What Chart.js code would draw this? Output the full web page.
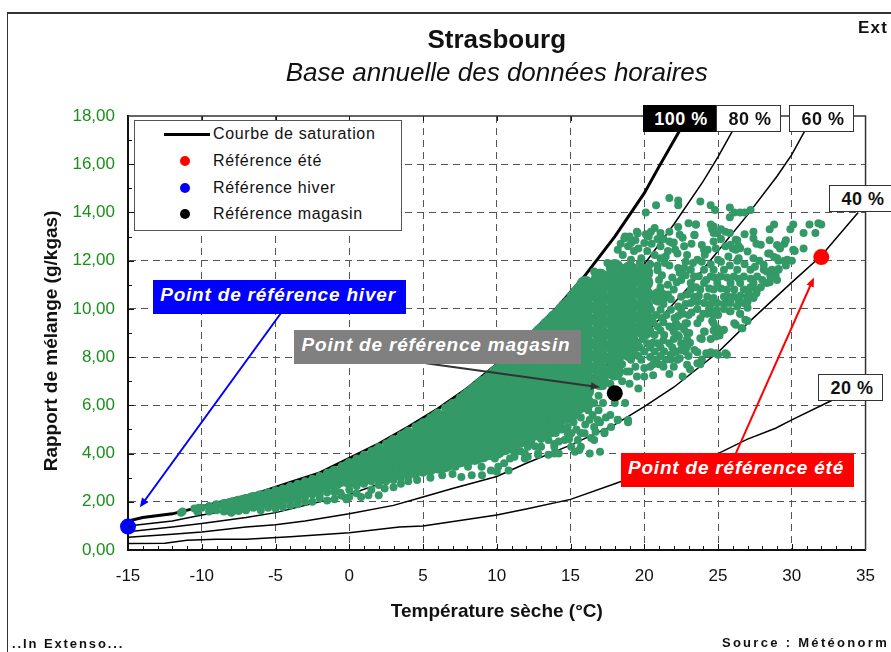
<!DOCTYPE html>
<html lang="fr">
<head>
<meta charset="utf-8">
<title>Strasbourg</title>
<script src="https://cdn.jsdelivr.net/npm/chart.js@4"></script>
<style>
html, body { margin: 0; padding: 0; background: #fff; overflow: hidden; }
body { width: 891px; height: 652px; position: relative; font-family: "Liberation Sans", Arial, sans-serif; }
#chart { position: absolute; left: 0; top: 0; }
#frame { position: absolute; left: 7px; top: 12px; width: 900px; height: 700px; border-left: 1px solid #333; border-top: 2px solid #333; }
.note { position: absolute; box-sizing: border-box; padding-right: 3px; color: #fff; font-weight: bold; font-style: italic; font-size: 19px; letter-spacing: 0.8px; text-align: center; height: 34px; line-height: 29px; white-space: nowrap; }
#note-hiver { left: 153px; top: 280px; width: 253px; background: #0000ff; }
#note-magasin { left: 294px; top: 330px; width: 287px; background: #808080; }
#note-ete { left: 621px; top: 453px; width: 233px; background: #ff0000; }
.pct { position: absolute; box-sizing: border-box; padding-left: 3px; height: 27px; line-height: 27px; background: #fff; border: 1.5px solid #333; color: #111; font-weight: bold; font-size: 18px; text-align: center; letter-spacing: 0.5px; }
#pct100 { left: 643px; top: 105px; width: 73px; background: #000; color: #fff; border-color: #000; }
#pct80 { left: 716px; top: 105px; width: 65px; }
#pct60 { left: 789px; top: 105px; width: 65px; }
#pct40 { left: 829px; top: 185px; width: 65px; }
#pct20 { left: 818px; top: 374px; width: 65px; }
#legend { position: absolute; left: 134px; top: 120px; width: 268px; height: 111px; box-sizing: border-box; background: #fff; border: 1px solid #555; font-size: 16px; color: #111; }
#legend div { position: absolute; left: 78px; height: 20px; line-height: 20px; white-space: nowrap; letter-spacing: 0.65px; }
#legend i { position: absolute; display: block; }
.foot { position: absolute; font-weight: bold; font-size: 13px; color: #111; white-space: nowrap; }
#foot-left { left: 12px; top: 636px; letter-spacing: 1.9px; }
#foot-right { right: 2px; top: 635px; letter-spacing: 2.3px; }
#ext { position: absolute; left: 858px; top: 18px; font-weight: bold; font-size: 17px; color: #111; letter-spacing: 1.2px; }
</style>
</head>
<body>
<div id="frame"></div>
<canvas id="chart" width="891" height="652"></canvas>
<div id="legend"></div>
<div id="ext">Ext</div>
<div class="foot" id="foot-left">..In Extenso...</div>
<div class="foot" id="foot-right">Source : Météonorm</div>
<script>
const chartTitle = 'Strasbourg';
const chartSubtitle = 'Base annuelle des données horaires';
const xTitle = 'Température sèche (°C)';
const yTitle = 'Rapport de mélange (g/kgas)   ';

// courbes d'humidité relative [temp, rapport de mélange]
const curve100 = [[-15,1.2],[-14,1.35],[-12,1.5],[-10,1.8],[-8,2.1],[-6,2.4],[-4,2.8],[-2,3.2],[0,3.8],[2,4.4],[4,5.1],[6,5.85],[8,6.7],[10,7.7],[12,8.8],[14,10],[16,11.4],[18,13],[20,14.8],[21,15.9],[22.4,17.4]];
const curve80 = [[-15,1],[-12,1.2],[-10,1.45],[-7,1.75],[-5,2.05],[-2,2.6],[0,3.05],[5,4.4],[10,6.2],[15,8.6],[18,10.4],[20,11.85],[22,13.5],[24,15.3],[25,16.3],[26,17.4]];
const curve60 = [[-15,0.76],[-12,0.95],[-10,1.1],[-7,1.35],[-5,1.55],[-2,2],[0,2.3],[3,2.95],[5,3.3],[10,4.65],[15,6.5],[20,8.9],[23,10.9],[25,12.4],[27,13.9],[29,15.5],[30,16.4],[30.9,17.4]];
const curve40 = [[-15,0.53],[-12,0.65],[-10,0.75],[-7,0.95],[-5,1.05],[-3,1.2],[0,1.5],[3,1.85],[5,2.2],[7,2.55],[10,3.05],[12,3.6],[15,4.35],[18,5.2],[20,5.95],[22,6.75],[25,8.2],[27,9.4],[30,11.1],[32,12.2],[34.5,14]];
const curve20 = [[-15,0.27],[-12.5,0.28],[-11,0.4],[-9,0.45],[-7,0.45],[-4,0.55],[0,0.72],[3.4,0.95],[5,1],[10,1.45],[12,1.7],[15,2.1],[18,2.75],[20,3.2],[22,3.55],[25,4],[27,4.6],[28.9,5.05],[30,5.4],[32.7,6.2]];

const pctLabels = ['100 %', '80 %', '60 %', '40 %', '20 %'];
const noteLabels = ['Point de référence hiver', 'Point de référence magasin', 'Point de référence été'];

// points de référence
const refEte = [32, 12.15];
const refHiver = [-15, 0.97];
const refMagasin = [18, 6.5];

// flèches [départ, arrivée]
const arrowHiver = [[-4.6, 9.85], [-14.2, 1.77]];
const arrowMagasin = [[5.2, 7.75], [17, 6.75]];
const arrowEte = [[26.2, 4], [31.5, 11.3]];

// coeur du nuage : zone trop dense pour lire chaque point, gros points superposés
const cloudCore = [
[-8,1.8],[-7.5,1.88],[-7,1.95],[-6.5,2.03],[-6,2.1],[-5.5,2.15],[-5,2.2],[-4.5,2.3],[-4,2.4],[-3.5,2.47],[-3,2.55],[-2.5,2.65],[-2,2.75],[-1.5,2.85],
[-1,2.85],[-1,3.1],[-0.5,3],[-0.5,3.15],[0,2.95],[0,3.4],[0.5,3],[0.5,3.45],[1,3.05],[1,3.35],[1,3.65],[1.5,3.15],[1.5,3.7],
[2,3.15],[2,3.6],[2,4],[2.5,3.3],[2.5,3.9],[3,3.25],[3,3.8],[3,4.35],[3.5,3.4],[3.5,3.9],[3.5,4.4],[4,3.35],[4,3.85],[4,4.35],[4,4.7],[4.5,3.45],[4.5,3.95],[4.5,4.6],
[5,3.45],[5,3.95],[5,4.5],[5,5.05],[5.5,3.5],[5.5,4.1],[5.5,4.7],[5.5,5.2],[6,3.55],[6,4.05],[6,4.55],[6,5.05],[6,5.45],[6.5,3.6],[6.5,4.2],[6.5,4.8],[6.5,5.4],
[7,3.7],[7,4.2],[7,4.7],[7,5.2],[7,5.55],[7,5.85],[7.5,3.8],[7.5,4.4],[7.5,5],[7.5,5.6],[7.5,6],
[8,3.85],[8,4.4],[8,4.9],[8,5.4],[8,5.9],[8,6.3],[8.5,3.9],[8.5,4.5],[8.5,5.1],[8.5,5.7],[8.5,6.3],[8.5,6.55],
[9,4],[9,4.5],[9,5],[9,5.5],[9,6],[9,6.45],[9,6.8],[9.5,4.1],[9.5,4.7],[9.5,5.3],[9.5,5.9],[9.5,6.5],[9.5,7],
[10,4.15],[10,4.65],[10,5.15],[10,5.65],[10,6.15],[10,6.65],[10,6.95],[10,7.3],[10.5,4.3],[10.5,4.9],[10.5,5.5],[10.5,6.1],[10.5,6.7],[10.5,7.45],
[11,4.4],[11,4.9],[11,5.4],[11,5.9],[11,6.4],[11,6.9],[11,7.4],[11,7.8],[11.5,4.6],[11.5,5.2],[11.5,5.8],[11.5,6.4],[11.5,7],[11.5,7.6],[11.5,8.05],
[12,4.7],[12,5.2],[12,5.7],[12,6.2],[12,6.7],[12,7.2],[12,7.7],[12,8.05],[12,8.4],[12.5,4.9],[12.5,5.5],[12.5,6.1],[12.5,6.7],[12.5,7.3],[12.5,7.9],[12.5,8.6],
[13,5],[13,5.5],[13,6],[13,6.5],[13,7],[13,7.5],[13,8],[13,8.5],[13,9],[13.5,5.3],[13.5,5.9],[13.5,6.5],[13.5,7.1],[13.5,7.7],[13.5,8.3],[13.5,8.9],[13.5,9.3],
[14,5.3],[14,5.8],[14,6.3],[14,6.8],[14,7.3],[14,7.8],[14,8.3],[14,8.8],[14,9.3],[14,9.6],[14.5,5.6],[14.5,6.2],[14.5,6.8],[14.5,7.4],[14.5,8],[14.5,8.6],[14.5,9.2],[14.5,9.9],
[15,5.7],[15,6.2],[15,6.7],[15,7.2],[15,7.7],[15,8.2],[15,8.7],[15,9.2],[15,9.7],[15,10.2],[15.5,6],[15.5,6.6],[15.5,7.2],[15.5,7.8],[15.5,8.4],[15.5,9],[15.5,9.6],[15.5,10.2],[15.5,10.6],
[16,6.1],[16,6.6],[16,7.1],[16,7.6],[16,8.1],[16,8.6],[16,9.1],[16,9.6],[16,10.1],[16,10.6],[16,11],
[17,7],[17,7.5],[17,8],[17,8.5],[17,9],[17,9.5],[17,10],[17,10.5],[17,11],[17,11.3],
[18,7.4],[18,7.9],[18,8.4],[18,8.9],[18,9.4],[18,9.9],[18,10.4],[18,10.9],[18,11.4],[18,11.7],
[19,8.2],[19,8.7],[19,9.2],[19,9.7],[19,10.2],[19,10.7],[19,11.2],[19,11.6],
[20,9.1],[20,9.6],[20,10.1],[20,10.6],[20,11.1],[20,11.5],
[21,10.5]
];

// points isolés et bords du nuage
const cloudEdge = [
// bord haut le long de la saturation
[-10.5,1.72],[-10,1.75],[-9.5,1.82],[-9,1.9],[-8.5,1.95],[-8,2],[-7.5,2.08],[-7,2.15],[-6.5,2.23],[-6,2.3],[-5.5,2.4],[-5,2.48],[-4.5,2.55],[-4,2.65],[-3.5,2.75],[-3,2.85],[-2.5,2.95],[-2,3.07],[-1.5,3.2],[-1,3.33],[-0.5,3.48],[0,3.65],[0.5,3.8],[1,3.95],[1.5,4.1],[2,4.27],[2.5,4.42],[3,4.6],[3.5,4.77],[4,4.95],[4.5,5.12],[5,5.3],[5.5,5.5],[6,5.7],[6.5,5.9],[7,6.1],[7.5,6.32],[8,6.55],[8.5,6.8],[9,7.05],[9.5,7.3],[10,7.55],[10.5,7.8],[11,8.05],[11.5,8.35],[12,8.65],[12.5,8.95],[13,9.25],[13.5,9.55],[14,9.85],[14.5,10.2],[15,10.55],[15.5,10.9],
// bord bas, partie froide
[-11.4,1.55],[-11.3,1.6],[-10.3,1.6],[-10.2,1.75],[-9.5,1.6],[-9.5,1.75],[-9,1.65],[-9,1.8],[-8.5,1.6],[-8.5,1.8],[-8,1.55],[-7.5,1.62],[-7,1.65],[-6.5,1.75],[-6,1.65],[-6,1.8],[-5.5,1.75],[-5,1.85],[-5,1.72],[-4.5,1.78],[-4.5,1.95],[-4,1.85],[-4,2.05],[-3.5,1.9],[-3.5,2.1],[-3,2],[-3,2.2],[-2.5,2],[-2.5,2.3],[-2,2.15],[-2,2.3],[-1.5,2.05],[-1.5,2.4],[-1,2.1],[-1,2.4],[-0.6,2.37],[-0.5,2.25],[-0.2,2.1],[0,2.2],[0,2.5],[0.5,2.35],[0.5,2.65],[0.8,2.2],[1.3,2.27],[2,2.27],[1.5,2.5],[2.4,2.55],[3,2.6],[3.5,2.75],
[0.5,2.9],[1,2.75],[1.5,2.85],[2,2.7],[2.5,2.85],[3,2.9],[3.5,3],[4,3.05],[4.5,3.1],[5,3.2],[5.5,3.25],
// bord bas, partie médiane
[4,2.85],[4.6,2.9],[5.5,3],[6.3,3.1],[7,3.15],[7.6,3.03],[8.3,3.1],[9,3.1],[9.6,3.3],[10,3.25],[10.8,3.3],[10.5,3.6],[11.2,3.87],[12.1,3.87],[11.6,4.1],[12.8,3.95],[13.5,3.95],[14.2,4],[15.3,4.07],[15.6,4.15],[16.3,4],[16.4,4.65],[17,4.07],[15.7,4.85],[14.8,4.85],[13.9,4.4],[12.3,4.4],[13,4.6],[14.4,5],[15.7,5.5],[16.5,5.6],[16.7,4.9],[17.3,4.9],[15.2,5.3],[16,5.2],
[6.5,3.45],[7.2,3.45],[8.05,3.45],[8.97,3.45],[10.1,3.45],[6.95,3.8],[8.05,3.8],[8.86,3.8],[9.87,3.8],[10.9,3.8],[11.9,3.8],[11.2,4],[11.9,4],[12.8,4],[13.9,4],
[12.1,4.28],[13,4.28],[13.9,4.28],[15.05,4.28],[15.7,4.28],[11.67,4.56],[12.35,4.56],[13.5,4.56],[14.6,4.56],[15.5,4.56],[16.6,4.56],[12.6,4.84],[13.7,4.84],[15.05,4.84],[15.95,4.84],[17.3,4.84],[12.35,5.1],[13.25,5.1],[14.8,5.1],[16.6,5.1],[17.75,5.1],[13.7,5.39],[15.05,5.39],[16.85,5.39],[18.2,5.39],[18.9,5.39],
[12.6,4.3],[13.3,4.7],[14.2,4.5],[14.9,4.6],[14.2,5.2],[15.4,5],[16.3,5.4],[16.2,5.8],[17,5.3],[16.9,5.8],[17.4,5.5],[15.3,5.6],[14.7,5.4],[13,5],[14,4.85],
// bas droite
[18.9,5.3],[18.2,5.4],[17.7,5.6],[17.2,6.1],[18,6.1],[18.7,6.1],[16.6,6.1],[16.9,6.4],[19.6,6.7],[19,6.9],[20,7.2],[20.6,7.25],[21.7,7.3],[22.6,7.2],[22,7.6],[23.1,7.5],[23.8,7.7],[24.5,8.2],[25,8.1],[25.6,8.1],[23.9,7.9],[22.5,8.3],[23.1,8.6],[23.6,8.2],[22,8.2],[21.8,7.9],[21,7.7],[20.4,7.6],
[17.2,6.8],[17.7,6.9],[18.5,7],[18.8,7.4],[17.6,7.3],[18.5,7.7],[19,7.4],[19.5,7.2],[19.4,7.6],[20,7.55],[20.6,7.7],[21.3,7.6],
[23.9,8.75],[24.5,8.75],[25.1,8.9],[26.6,9.2],[26.1,9.4],[25.3,9.1],[24.7,9.1],[24.1,9.05],[22.9,9],[22.1,9.3],[22.8,9.4],[23.8,9.6],[24.6,9.5],[27,9.5],[26.5,9.8],[25.8,9.9],[25,9.75],[24.4,10],[23.6,10],[27.4,10.45],[27,10.3],[26.4,10.35],[25.6,10.25],[27.6,10.65],[27.2,10.9],[28.5,11.1],[29,11.2],
[24.27,9.8],[24.7,9.75],[25.4,10],[25.85,9.9],[26.5,9.8],[26.85,9.55],[26.2,9.34],[26.65,9.2],[24.7,9.4],[24.95,9.2],[25.4,9.13],[24.85,8.85],[24.05,9.06],[23.8,8.78],[23.6,9.4],[22.9,9.4],[23.05,9],[22.15,9.4],[21.9,9.2],[22.35,8.85],[22.9,8.44],[23.4,8.3],[24.5,8.16],[24.85,8.16],[25.5,8.16],[24.2,8.16],[23.6,7.75],[22.9,7.68],
[19.8,9.96],[20.45,9.96],[21.1,9.96],[21.8,9.96],[22.5,9.96],[19.55,9.62],[20.45,9.62],[21.2,9.62],[22.05,9.62],[19.3,9.27],[20.2,9.27],[20.9,9.27],[21.7,9.27],[22.35,9.27],[20,8.92],[20.7,8.92],[21.35,8.92],[22.25,8.92],[19.55,8.58],[20.2,8.58],[20.9,8.58],[21.7,8.58],[22.5,8.58],[19.3,8.23],[20,8.23],[20.7,8.23],[21.35,8.23],[22.15,8.23],[22.8,8.23],[19.1,7.89],[19.8,7.89],[20.8,7.89],[21.45,7.89],[22.25,7.89],
[19.2,9.8],[20,9.8],[20.8,9.75],[21.5,9.75],[22.3,9.7],[23,9.75],[19.8,9.4],[20.6,9.45],[21.3,9.45],[22.7,9.15],[19.5,9.05],[20.4,9.1],[21.1,9.1],[22,9.05],[19.2,8.75],[19.9,8.75],[20.6,8.6],[21.3,8.7],[22,8.75],[22.9,8.75],[19.7,8.4],[20.4,8.4],[21.1,8.4],[21.9,8.4],[22.6,8.5],[19,8.5],[19.6,8.05],[20.4,8],[21.1,8.05],[21.8,8.1],[22.4,7.95],[23,8.05],
// nappe irrégulière à droite
[23.15,11.62],[24.05,11.62],[24.7,11.62],[25.4,11.62],[26.3,11.62],[27.2,11.62],[28.1,11.62],[23.37,11.34],[24.5,11.34],[25.17,11.34],[26.07,11.34],[26.75,11.34],[27.65,11.34],[28.55,11.34],
[23.15,11.07],[24.05,11.07],[24.95,11.07],[25.85,11.07],[26.5,11.07],[27.4,11.07],[28.3,11.07],[23.15,10.8],[23.8,10.8],[24.7,10.8],[25.6,10.8],[26.75,10.8],[27.65,10.8],
[23.37,10.5],[24.27,10.5],[25.4,10.5],[26.07,10.5],[26.97,10.5],[27.4,10.5],[23.15,10.24],[24.05,10.24],[24.95,10.24],[25.85,10.24],[26.75,10.24],[22.5,10.5],[22.5,11.2],[22.7,11.7],[22.3,10.1],[21.8,10.4],
[22.8,11.4],[23.7,11.35],[24.2,11.2],[24.8,11.3],[25.6,11.3],[26.4,11.25],[27.2,11.25],[28,11.2],[23.5,10.9],[24.4,10.85],[25.2,10.85],[26.1,10.8],[27.1,10.8],[27.9,10.9],[22.9,10.6],[23.7,10.55],[24.7,10.45],[25.7,10.5],[26.5,10.55],[27.1,10.6],[22.8,10.2],[23.6,10.3],[24.5,10.2],[25.4,10.2],[26.3,10.1],[27,10.05],[22.6,9.8],[23.2,9.85],[24,9.8],[24.9,9.95],
[21.2,11.4],[21.6,11],[22,10.8],[21.6,10.6],[21,11.2],[21.3,10.2],[21.9,11.3],[22.2,11.1],[21.1,10.9],[20.9,11.6],[22.4,11.5],
// sommet du nuage
[20.7,13.35],[19.5,13.2],[18.7,13],[20.1,13.1],[21.1,13.15],[21.7,12.8],[22,12.75],[18.2,12.45],[17.5,11.9],[16.6,11.55],[16.3,11.1],
[19,13],[19.55,13.14],[20.45,13.2],[18.65,12.93],[19.1,12.73],[20,12.73],[18.54,12.24],[19.3,12.4],[20.2,12.4],[21.1,12.6],[21.9,12.73],[22.4,13.07],[22.7,12.6],[22.25,12.3],[21.45,12.17],[20.7,12.24],[19.8,12.1],[19.1,12.04],[22.9,12.24],[23.6,12.04],[24.05,12.45],[23.4,13.07],[23.5,13.5],[24.7,13.42],[24.95,13.14],[25.5,13.2],[24.85,12.5],[25,12.04],[25.7,12.17],[26.2,12.87],[25.85,12.66],[26.5,12.52],[27,12.38],[26.4,12.1],[27.4,12.93],[27.9,12.66],[28.4,12.3],[29,12.1],[27.4,12.1],[28.1,11.83],[28.65,11.62],[29.1,11.62],[29.7,12.04],[30.1,12.45],[20.9,11.8],[21.7,11.8],[22.3,11.7],
[18.9,12.6],[19.6,12.5],[20.5,12.7],[21.3,12.9],[18.4,12.7],[19.4,12.85],[20.3,13],[21.6,12.4],[20.9,12.9],[22.1,12.45],[21.4,11.9],[19.7,11.9],[20.4,11.85],[21.1,12.1],[22.8,11.95],[23.3,11.9],[23.9,11.95],[24.5,11.85],[25.2,11.95],[25.8,11.8],[26.3,12],[26.8,11.85],[27.5,11.75],[27.8,12],[28.3,11.55],[28.9,11.4],
// points hauts isolés
[21.7,14.6],[22.3,14.5],[22.3,14.3],[20.8,14.3],[20.1,14],[23.8,14.45],[24.5,14.3],[24.8,14.1],[25.8,14.2],[26.1,14],[26.5,14],[26.8,14],[27.2,14.1],[25.8,13.8],[23,13.55],[23.5,13.5],[22.3,13.4],[21.7,13.2],[24.5,13.5],[24.6,13.3],[24.7,13.15],[25.2,13.3],[25.8,13.15],[26.8,13.1],[27.4,13.2],[28.5,13.3],[28.8,13.5],[30.1,13.5],[29.9,13.3],[30.8,13.15],[31.2,13.5],[31.8,13.55],[32,13.5],[31.6,13.15],[30.8,12.5],[30.2,12.4],[30,12],[29.5,12],[29.6,11.8],[29.1,11.65],
[28.5,12.85],[29,12.65],[29.2,12.5],[29.5,12.7],[29.6,12.85],[27.6,12.7],[28.5,12.3],[28.8,12.15],[29.1,12],[26.3,12.85],[26.4,12.6],[26,12.5],[26.2,12.45],[24.7,12.8],[23.9,12.65],[24.3,12.45],[24.1,12.25],[23.2,12.7],[22.6,12.95],[23.4,13.05],[25.5,12.6],[25.2,12.9]
];

const axisColor = '#111';
const gridColor = '#555';
const green = '#339966';

function toXY(list) {
    return list.map(p => ({ x: p[0], y: p[1] }));
}

function curveDataset(list, width, order) {
    return { data: toXY(list), showLine: true, borderColor: '#000', borderWidth: width, pointRadius: 0, tension: 0, order: order };
}

function refDataset(point, color) {
    return { data: toXY([point]), pointRadius: 8, pointBackgroundColor: color, pointBorderWidth: 0, showLine: false, order: 1, clip: false };
}

// Petits traits d'axe, cadre haut/droite et flèches
const decorPlugin = {
    id: 'decor',
    afterDatasetsDraw(chart) {
        const { ctx, chartArea: a, scales: { x, y } } = chart;
        ctx.save();
        ctx.strokeStyle = axisColor;
        ctx.lineWidth = 1;
        ctx.beginPath();
        for (let t = -14; t < 35; t++) {
            const px = Math.round(x.getPixelForValue(t)) + 0.5;
            ctx.moveTo(px, a.bottom);
            ctx.lineTo(px, a.bottom - (t % 5 === 0 ? 6 : 4));
            if (t % 5 === 0) {
                ctx.moveTo(px, a.top);
                ctx.lineTo(px, a.top + 5);
            }
        }
        for (let v = 1; v < 18; v++) {
            const py = Math.round(y.getPixelForValue(v)) + 0.5;
            ctx.moveTo(a.left, py);
            ctx.lineTo(a.left + (v % 2 === 0 ? 6 : 4), py);
        }
        ctx.stroke();
        ctx.lineWidth = 1.5;
        ctx.strokeStyle = '#333';
        ctx.beginPath();
        ctx.moveTo(a.left, a.top);
        ctx.lineTo(a.right, a.top);
        ctx.lineTo(a.right, a.bottom);
        ctx.stroke();

        drawArrow(ctx, x, y, arrowHiver, '#0000ff');
        drawArrow(ctx, x, y, arrowMagasin, '#333333');
        drawArrow(ctx, x, y, arrowEte, '#ff0000');
        ctx.restore();
    }
};

function drawArrow(ctx, x, y, arrow, color) {
    const x1 = x.getPixelForValue(arrow[0][0]), y1 = y.getPixelForValue(arrow[0][1]);
    const x2 = x.getPixelForValue(arrow[1][0]), y2 = y.getPixelForValue(arrow[1][1]);
    const ang = Math.atan2(y2 - y1, x2 - x1);
    ctx.strokeStyle = color;
    ctx.fillStyle = color;
    ctx.lineWidth = 2;
    ctx.beginPath();
    ctx.moveTo(x1, y1);
    ctx.lineTo(x2 - 6 * Math.cos(ang), y2 - 6 * Math.sin(ang));
    ctx.stroke();
    ctx.beginPath();
    ctx.moveTo(x2, y2);
    ctx.lineTo(x2 - 10 * Math.cos(ang - 0.4), y2 - 10 * Math.sin(ang - 0.4));
    ctx.lineTo(x2 - 10 * Math.cos(ang + 0.4), y2 - 10 * Math.sin(ang + 0.4));
    ctx.closePath();
    ctx.fill();
}

function addBoxes() {
    const noteIds = ['note-hiver', 'note-magasin', 'note-ete'];
    noteLabels.forEach((text, i) => {
        const el = document.createElement('div');
        el.className = 'note';
        el.id = noteIds[i];
        el.textContent = text;
        document.body.appendChild(el);
    });
    const pctIds = ['pct100', 'pct80', 'pct60', 'pct40', 'pct20'];
    pctLabels.forEach((text, i) => {
        const el = document.createElement('div');
        el.className = 'pct';
        el.id = pctIds[i];
        el.textContent = text;
        document.body.appendChild(el);
    });
}

function addLegend() {
    const legend = document.getElementById('legend');
    const rows = [
        ['Courbe de saturation', null, 3],
        ['Référence été', '#ff0000', 30],
        ['Référence hiver', '#0000ff', 57],
        ['Référence magasin', '#000000', 83]
    ];
    rows.forEach(r => {
        const label = document.createElement('div');
        label.textContent = r[0];
        label.style.top = r[2] + 'px';
        legend.appendChild(label);
        const mark = document.createElement('i');
        if (r[1]) {
            mark.style.cssText = `left:45px;top:${r[2] + 5}px;width:10px;height:10px;border-radius:50%;background:${r[1]}`;
        } else {
            mark.style.cssText = `left:29px;top:${r[2] + 9}px;width:46px;height:3px;background:#000`;
        }
        legend.appendChild(mark);
    });
}

new Chart(document.getElementById('chart'), {
    type: 'scatter',
    data: {
        datasets: [
            refDataset(refEte, '#ff0000'),
            refDataset(refHiver, '#0000ff'),
            refDataset(refMagasin, '#000000'),
            { data: toXY(cloudCore), pointRadius: 9, pointBackgroundColor: green, pointBorderWidth: 0, order: 3 },
            { data: toXY(cloudEdge), pointRadius: 4, pointBackgroundColor: green, pointBorderWidth: 0, order: 2 },
            curveDataset(curve100, 3, 4),
            curveDataset(curve80, 1.5, 5),
            curveDataset(curve60, 1.5, 5),
            curveDataset(curve40, 1.5, 5),
            curveDataset(curve20, 1.5, 5)
        ]
    },
    options: {
        responsive: false,
        animation: false,
        layout: { padding: { left: 40, right: 22, top: 0, bottom: 0 } },
        plugins: {
            legend: { display: false },
            tooltip: { enabled: false },
            title: {
                display: true, text: chartTitle, color: '#111', fullSize: false,
                font: { family: 'Liberation Sans', size: 26, weight: 'bold' },
                padding: { top: 25, bottom: 0 }
            },
            subtitle: {
                display: true, text: chartSubtitle, color: '#111', fullSize: false,
                font: { family: 'Liberation Sans', size: 26, style: 'italic', weight: 'normal' },
                padding: { top: 2, bottom: 26.6 }
            }
        },
        scales: {
            x: {
                type: 'linear', min: -15, max: 35,
                afterFit(s) { s.height = 102; },
                afterBuildTicks(s) { s.ticks = s.ticks.filter(t => t.value % 5 === 0); },
                ticks: { stepSize: 5, color: '#111', padding: 16, font: { family: 'Liberation Sans', size: 17 } },
                grid: {
                    drawTicks: false,
                    color: c => (c.tick.value === -15 || c.tick.value === 35) ? 'transparent' : gridColor,
                    lineWidth: 1
                },
                border: { display: true, color: axisColor, width: 2, dash: [7, 5] },
                title: { display: true, text: xTitle, color: '#111', padding: { top: 14, bottom: 29 }, font: { family: 'Liberation Sans', size: 19, weight: 'bold' } }
            },
            y: {
                min: 0, max: 18,
                afterFit(s) { s.width = 88; },
                ticks: { stepSize: 2, color: '#1a8f1a', padding: 13, font: { family: 'Liberation Sans', size: 17 }, callback: v => v.toFixed(2).replace('.', ',') },
                grid: {
                    drawTicks: false,
                    color: c => (c.tick.value === 0 || c.tick.value === 18) ? 'transparent' : gridColor,
                    lineWidth: 1
                },
                border: { display: true, color: axisColor, width: 2, dash: [7, 5] },
                title: { display: true, text: yTitle, color: '#111', padding: { top: 0, bottom: 6 }, font: { family: 'Liberation Sans', size: 19, weight: 'bold' } }
            }
        }
    },
    plugins: [decorPlugin]
});

addLegend();
addBoxes();
</script>
</body>
</html>
